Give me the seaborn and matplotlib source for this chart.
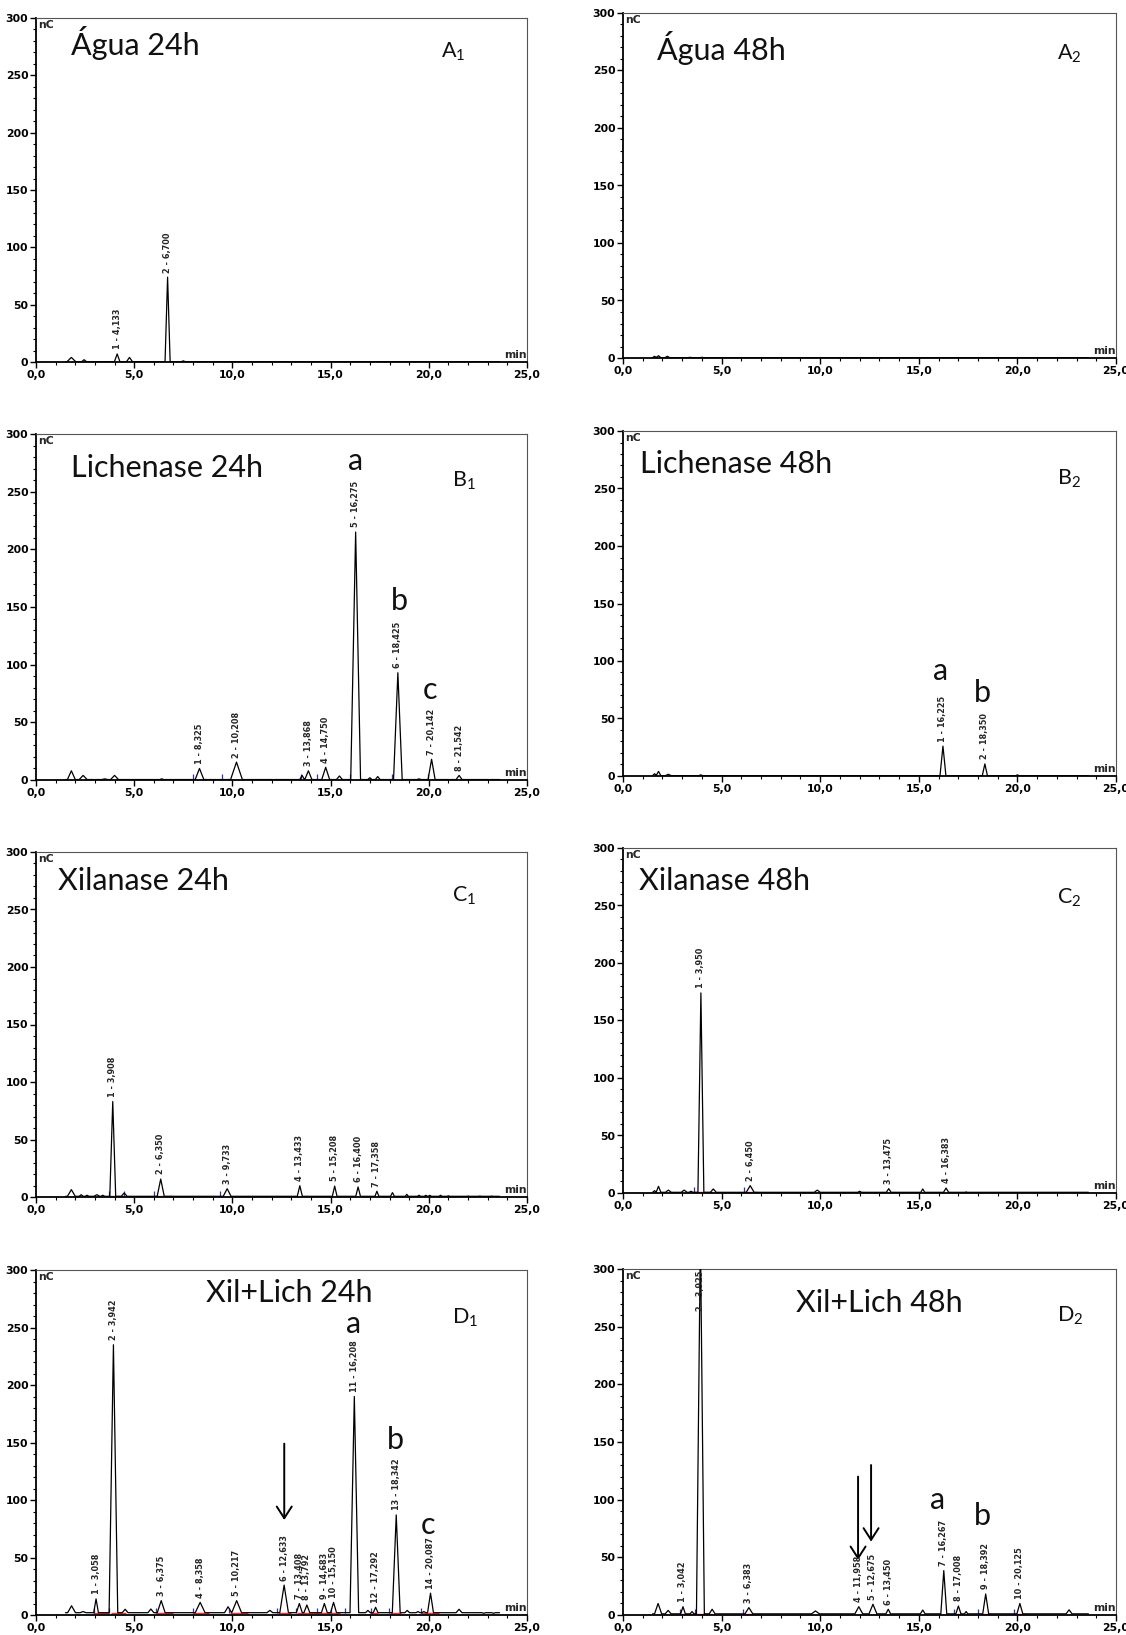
import matplotlib
matplotlib.use("Agg")
import matplotlib.pyplot as plt
import seaborn as sns
from matplotlib.ticker import MultipleLocator, FixedLocator, FuncFormatter

sns.set_theme(style="white")
plt.rcParams['font.family'] = ['DejaVu Sans']
plt.rcParams['mathtext.default'] = 'regular'

# ---------------- data ----------------
XTICKS = [0, 5, 10, 15, 20, 25]
YTICKS = [0, 50, 100, 150, 200, 250, 300]

# Água 24h
A1_rt  = [1.80, 2.45, 4.133, 4.76, 6.700, 7.50]
A1_h   = [4.0, 2.0, 7.0, 4.0, 74.0, 1.0]
A1_w   = [0.22, 0.12, 0.14, 0.15, 0.13, 0.10]
A1_lab = ["", "", "1 - 4,133", "", "2 - 6,700", ""]
A1_red = [(6.55, 7.50)]
A1_blue = []

# Água 48h
A2_rt  = [1.60, 1.80, 2.25, 3.40, 4.00]
A2_h   = [1.5, 2.0, 1.5, 0.6, 0.6]
A2_w   = [0.10, 0.12, 0.12, 0.10, 0.10]
A2_lab = ["", "", "", "", ""]
A2_red = []
A2_blue = []

# Lichenase 24h
B1_rt  = [1.80, 2.40, 3.50, 4.00, 6.40, 8.325, 10.208, 13.55, 13.868, 14.750,
          15.45, 16.275, 17.00, 17.40, 18.425, 19.50, 20.142, 21.542]
B1_h   = [8.0, 4.0, 1.0, 4.0, 1.0, 10.0, 15.5, 4.0, 8.0, 11.0,
          3.5, 215.0, 2.0, 3.0, 93.0, 1.0, 18.0, 4.0]
B1_w   = [0.20, 0.20, 0.15, 0.20, 0.10, 0.22, 0.30, 0.12, 0.18, 0.20,
          0.15, 0.25, 0.10, 0.12, 0.22, 0.10, 0.18, 0.15]
B1_lab = ["", "", "", "", "", "1 - 8,325", "2 - 10,208", "", "3 - 13,868", "4 - 14,750",
          "", "5 - 16,275", "", "", "6 - 18,425", "", "7 - 20,142", "8 - 21,542"]
B1_red = [(8.0, 11.1), (13.6, 17.0), (18.2, 18.7), (19.9, 20.4)]
B1_blue = [8.0, 9.45, 13.5, 14.3, 16.0, 18.15, 19.95]

# Lichenase 48h
B2_rt  = [1.60, 1.80, 2.30, 3.94, 16.225, 18.350, 20.00]
B2_h   = [2.0, 4.0, 1.5, 1.0, 26.0, 10.5, 1.0]
B2_w   = [0.10, 0.12, 0.15, 0.10, 0.15, 0.13, 0.08]
B2_lab = ["", "", "", "", "1 - 16,225", "2 - 18,350", ""]
B2_red = []
B2_blue = []

# Xilanase 24h
C1_rt  = [1.80, 2.30, 2.60, 3.10, 3.40, 3.908, 4.49, 6.350, 9.733, 13.433, 15.208,
          16.400, 17.358, 18.15, 18.88, 19.50, 19.85, 20.05, 20.60, 21.00, 22.00, 22.60, 23.20]
C1_h   = [6.4, 2.0, 1.5, 2.0, 1.5, 83.0, 3.5, 15.6, 7.2, 9.8, 9.5,
          8.7, 5.0, 3.8, 2.3, 1.5, 1.5, 1.5, 1.5, 1.0, 0.8, 0.8, 0.8]
C1_w   = [0.20, 0.10, 0.10, 0.15, 0.10, 0.15, 0.15, 0.18, 0.20, 0.13, 0.12,
          0.12, 0.10, 0.10, 0.08, 0.08, 0.08, 0.08, 0.08, 0.08, 0.10, 0.10, 0.10]
C1_lab = ["", "", "", "", "", "1 - 3,908", "", "2 - 6,350", "3 - 9,733", "4 - 13,433", "5 - 15,208",
          "6 - 16,400", "7 - 17,358", "", "", "", "", "", "", "", "", "", ""]
C1_red = [(3.7, 4.5), (6.0, 6.9)]
C1_blue = [3.7, 4.5, 6.03, 9.38]

# Xilanase 48h
C2_rt  = [1.60, 1.80, 2.30, 3.10, 3.45, 3.950, 4.58, 6.450, 9.85, 12.00, 13.475,
          15.20, 16.383, 17.40, 18.10, 18.40]
C2_h   = [2.0, 5.8, 2.5, 2.5, 1.5, 174.0, 3.5, 6.4, 2.5, 1.5, 3.8,
          3.5, 4.3, 1.0, 0.6, 0.6]
C2_w   = [0.10, 0.12, 0.15, 0.15, 0.10, 0.15, 0.15, 0.20, 0.15, 0.10, 0.12,
          0.10, 0.13, 0.05, 0.05, 0.05]
C2_lab = ["", "", "", "", "", "1 - 3,950", "", "2 - 6,450", "", "", "3 - 13,475",
          "", "4 - 16,383", "", "", ""]
C2_red = [(3.6, 4.5), (6.2, 6.8)]
C2_blue = [3.6, 6.15]

# Xil+Lich 24h
D1_rt  = [1.81, 2.40, 3.058, 3.942, 4.54, 5.85, 6.375, 8.358, 9.78, 10.217, 11.91,
          12.633, 13.408, 13.792, 14.683, 15.150, 16.208, 16.90, 17.292, 18.342, 18.90,
          19.45, 19.75, 20.087, 21.00, 21.54, 22.20, 22.80, 23.30]
D1_h   = [8.0, 3.0, 14.0, 235.0, 5.0, 5.2, 12.5, 11.0, 7.2, 12.5, 4.0,
          26.0, 10.0, 8.7, 10.0, 11.0, 190.0, 4.0, 6.7, 87.0, 4.0,
          3.0, 3.0, 19.0, 2.0, 5.0, 2.0, 1.5, 1.5]
D1_w   = [0.20, 0.15, 0.12, 0.22, 0.15, 0.15, 0.20, 0.25, 0.18, 0.25, 0.15,
          0.22, 0.15, 0.15, 0.15, 0.15, 0.22, 0.12, 0.12, 0.20, 0.12,
          0.10, 0.10, 0.15, 0.10, 0.15, 0.10, 0.10, 0.10]
D1_lab = ["", "", "1 - 3,058", "2 - 3,942", "", "", "3 - 6,375", "4 - 8,358", "", "5 - 10,217", "",
          "6 - 12,633", "7 - 13,408", "8 - 13,792", "9 - 14,683", "10 - 15,150", "11 - 16,208", "",
          "12 - 17,292", "13 - 18,342", "", "", "", "14 - 20,087", "", "", "", "", ""]
D1_red = [(2.9, 3.7), (3.8, 4.6), (6.1, 7.0), (8.0, 8.8), (9.9, 10.8), (12.3, 13.0),
          (13.3, 15.5), (17.0, 17.4), (18.0, 18.6), (19.6, 20.5)]
D1_blue = [2.95, 3.7, 6.1, 8.0, 9.85, 12.25, 13.25, 14.3, 15.0, 15.75, 17.05, 17.95, 19.6]

# Xil+Lich 48h
D2_rt  = [1.78, 2.29, 3.042, 3.50, 3.925, 4.52, 6.383, 8.40, 9.00, 9.76, 11.958,
          12.675, 13.450, 15.20, 16.267, 17.008, 17.40, 18.392, 20.125, 21.50, 22.62]
D2_h   = [10.0, 4.0, 7.2, 3.0, 330.0, 5.0, 6.4, 1.0, 1.0, 3.5, 7.2,
          9.3, 5.0, 4.3, 38.5, 7.8, 3.0, 18.2, 10.0, 1.0, 4.5]
D2_w   = [0.18, 0.15, 0.12, 0.10, 0.20, 0.15, 0.20, 0.10, 0.10, 0.20, 0.20,
          0.20, 0.12, 0.12, 0.15, 0.13, 0.08, 0.15, 0.15, 0.10, 0.15]
D2_lab = ["", "", "1 - 3,042", "", "2 - 3,925", "", "3 - 6,383", "", "", "", "4 - 11,958",
          "5 - 12,675", "6 - 13,450", "", "7 - 16,267", "8 - 17,008", "", "9 - 18,392",
          "10 - 20,125", "", ""]
D2_red = [(2.9, 4.5), (6.1, 7.0), (16.9, 17.2), (18.0, 18.6), (19.8, 20.5)]
D2_blue = [2.9, 3.65, 6.1, 16.8, 18.0, 19.85]

TITLES = {"A1": "Água 24h", "A2": "Água 48h", "B1": "Lichenase 24h", "B2": "Lichenase 48h",
          "C1": "Xilanase 24h", "C2": "Xilanase 48h", "D1": "Xil+Lich 24h", "D2": "Xil+Lich 48h"}
TAGS = {"A1": ("A", "1"), "A2": ("A", "2"), "B1": ("B", "1"), "B2": ("B", "2"),
        "C1": ("C", "1"), "C2": ("C", "2"), "D1": ("D", "1"), "D2": ("D", "2")}
LETTERS = {"B1": [("a", 16.29, 277), ("b", 18.48, 155), ("c", 20.06, 78)],
           "B2": [("a", 16.12, 91.5), ("b", 18.22, 72)],
           "D1": [("a", 16.17, 253), ("b", 18.30, 152), ("c", 19.97, 78)],
           "D2": [("a", 15.97, 100), ("b", 18.22, 86)]}
ARROWS = {"D1": [(12.64, 149, 82.6)],
          "D2": [(11.92, 120, 47.7), (12.58, 130, 63.6)]}

PEAKS = {
    "A1": (A1_rt, A1_h, A1_w, A1_lab, A1_red, A1_blue),
    "A2": (A2_rt, A2_h, A2_w, A2_lab, A2_red, A2_blue),
    "B1": (B1_rt, B1_h, B1_w, B1_lab, B1_red, B1_blue),
    "B2": (B2_rt, B2_h, B2_w, B2_lab, B2_red, B2_blue),
    "C1": (C1_rt, C1_h, C1_w, C1_lab, C1_red, C1_blue),
    "C2": (C2_rt, C2_h, C2_w, C2_lab, C2_red, C2_blue),
    "D1": (D1_rt, D1_h, D1_w, D1_lab, D1_red, D1_blue),
    "D2": (D2_rt, D2_h, D2_w, D2_lab, D2_red, D2_blue),
}

# ---------------- layout / style ----------------
W, H = 1126, 1635
AX_BOX = {"A1": (36, 18, 527, 362), "A2": (623, 13, 1116, 358),
          "B1": (36, 434, 527, 780), "B2": (623, 431, 1116, 776),
          "C1": (36, 852, 527, 1197), "C2": (623, 848, 1116, 1193),
          "D1": (36, 1270, 527, 1615), "D2": (623, 1269, 1116, 1615)}
BASE = {"A1": 0.3, "A2": 0.3, "B1": 0.4, "B2": 0.3, "C1": 0.6, "C2": 0.6, "D1": 2.0, "D2": 1.0}
TITLE_POS = {"A1": (1.77, 268), "A2": (1.70, 259), "B1": (1.77, 263), "B2": (0.86, 263.5),
             "C1": (1.14, 266.7), "C2": (0.82, 263.8), "D1": (8.65, 272), "D2": (8.79, 263)}
TAG_POS = {"A1": (20.6, 265), "A2": (22.0, 259), "B1": (21.2, 254), "B2": (22.0, 253),
           "C1": (21.2, 256.6), "C2": (22.0, 251.6), "D1": (21.2, 253), "D2": (22.0, 254.5)}

TFONT = ['Lato', 'DejaVu Sans']
LFONT = ['DejaVu Sans']

fig = plt.figure(figsize=(W / 100, H / 100), dpi=100)

for key, (rt, hh, ww, lab, red, blue) in PEAKS.items():
    l, t, r, b = AX_BOX[key]
    ax = fig.add_axes([l / W, 1 - b / H, (r - l) / W, (b - t) / H])
    base = BASE[key]

    xs, ys = [1.5], [base]
    for p, q, s in zip(rt, hh, ww):
        xs += [p - s, p, p + s]
        ys += [base, q, base]
    xs.append(23.6)
    ys.append(base)

    # integration baselines (red) and peak delimiters (blue)
    for s0, s1 in red:
        ax.hlines(base, s0, s1, color="#ff2a2a", lw=1.0, zorder=2)
    if blue:
        ax.vlines(blue, base, base + 4.5, color="#2b35a8", lw=0.9, zorder=2)

    sns.lineplot(x=xs, y=ys, ax=ax, color="black", lw=0.9, sort=False,
                 estimator=None, errorbar=None, zorder=3)

    for p, q, s in zip(rt, hh, lab):
        if s:
            ax.text(p, min(q + 4, 264), s, rotation=90, ha="center", va="bottom",
                    fontsize=5.9, fontweight="bold", family=LFONT, zorder=4)

    ax.set_xlim(0, 25)
    ax.set_ylim(0, 300)
    ax.xaxis.set_major_locator(FixedLocator(XTICKS))
    ax.yaxis.set_major_locator(FixedLocator(YTICKS))
    ax.xaxis.set_minor_locator(MultipleLocator(1))
    ax.yaxis.set_minor_locator(MultipleLocator(10))
    ax.xaxis.set_major_formatter(FuncFormatter(lambda v, _: f"{v:.1f}".replace(".", ",")))
    ax.yaxis.set_major_formatter(FuncFormatter(lambda v, _: f"{v:.0f}"))
    ax.tick_params(axis="both", which="major", direction="out", length=4, width=1,
                   color="black", labelsize=7.8, pad=1.5, left=True, bottom=True)
    ax.tick_params(axis="both", which="minor", direction="out", length=2.5, width=0.8,
                   color="black", left=True, bottom=True)
    for lbl in ax.get_xticklabels() + ax.get_yticklabels():
        lbl.set_fontweight("bold")
        lbl.set_color("black")
    ax.set_xlabel("")
    ax.set_ylabel("")
    for side in ("left", "bottom"):
        ax.spines[side].set_color("black")
        ax.spines[side].set_linewidth(1.3)
    for side in ("top", "right"):
        ax.spines[side].set_color("#555555")
        ax.spines[side].set_linewidth(0.8)

    ax.text(0.12, 298, "nC", fontsize=7.8, fontweight="bold", ha="left", va="top")
    ax.text(25, 1.5, "min", fontsize=7.8, fontweight="bold", ha="right", va="bottom")

    tx, ty = TITLE_POS[key]
    ax.text(tx, ty, TITLES[key], fontsize=22, family=TFONT, ha="left", va="baseline",
            color="#111111")
    gx, gy = TAG_POS[key]
    letter, sub = TAGS[key]
    ax.text(gx, gy, f"{letter}$_{{{sub}}}$", fontsize=15.5, family=TFONT, ha="left",
            va="baseline", color="#111111")

    for s, x, y in LETTERS.get(key, []):
        ax.text(x, y, s, fontsize=22, family=TFONT, ha="center", va="center", color="#111111")

    for x, y0, y1 in ARROWS.get(key, []):
        ax.annotate("", xy=(x, y1), xytext=(x, y0),
                    arrowprops=dict(arrowstyle="->,head_length=0.7,head_width=0.45",
                                    lw=1.4, color="black", shrinkA=0, shrinkB=0))

fig.savefig("out.png", dpi=100, facecolor="white")
